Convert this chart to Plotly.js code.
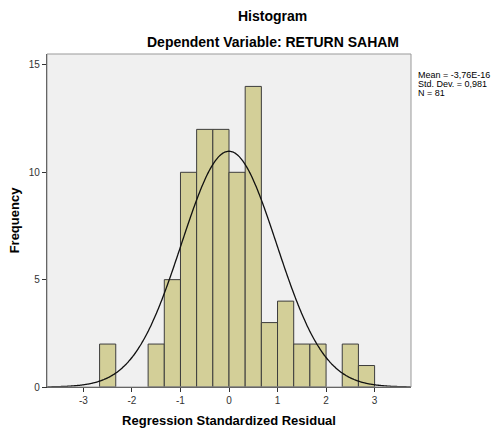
<!DOCTYPE html>
<html>
<head>
<meta charset="utf-8">
<script src="https://cdn.plot.ly/plotly-3.0.1.min.js"></script>
<style>html,body{margin:0;padding:0;background:#fff;}#chart{width:492px;height:429px;}</style>
</head>
<body>
<div id="chart"></div>
<script>
// Data
const binCenters = [-2.5, -2.1667, -1.8333, -1.5, -1.1667, -0.8333, -0.5, -0.1667, 0.1667, 0.5, 0.8333, 1.1667, 1.5, 1.8333, 2.1667, 2.5, 2.8333];
const counts     = [2, 0, 0, 2, 5, 10, 12, 12, 10, 14, 3, 4, 2, 2, 0, 2, 1];
const binWidth = 1/3;
const meanVal = -3.76e-16;
const sdVal = 0.981;
const nVal = 81;
const statLines = ["Mean = -3,76E-16", "Std. Dev. = 0,981", "N = 81"];
const xTicks = [-3, -2, -1, 0, 1, 2, 3];
const yTicks = [0, 5, 10, 15];

// Normal curve fitted with the reported mean/sd, scaled to counts
const curveX = [], curveY = [];
for (let i = 0; i <= 300; i++) {
  const x = -3.75 + 7.5 * i / 300;
  const z = (x - meanVal) / sdVal;
  curveX.push(x);
  curveY.push(nVal * binWidth * Math.exp(-0.5 * z * z) / (sdVal * Math.sqrt(2 * Math.PI)));
}

const bx = [], by = [];
binCenters.forEach((c, i) => { if (counts[i] > 0) { bx.push(c); by.push(counts[i]); } });

const traces = [
  {
    type: 'bar', x: bx, y: by, width: binWidth,
    marker: {color: '#d3cf98', line: {color: '#3c3c3c', width: 1}},
    hoverinfo: 'x+y', showlegend: false
  },
  {
    type: 'scatter', mode: 'lines', x: curveX, y: curveY,
    line: {color: '#111111', width: 1.3, shape: 'spline'},
    hoverinfo: 'skip', showlegend: false
  }
];

const fontFam = 'Liberation Sans, Arial, sans-serif';
const annotations = [
  {text: '<b>Histogram</b>', xref: 'paper', yref: 'paper', x: 0.619, y: 1.114, xanchor: 'center', yanchor: 'middle', showarrow: false, font: {family: fontFam, size: 14, color: '#000'}},
  {text: '<b>Dependent Variable: RETURN SAHAM</b>', xref: 'paper', yref: 'paper', x: 0.621, y: 1.036, xanchor: 'center', yanchor: 'middle', showarrow: false, font: {family: fontFam, size: 14, color: '#000'}}
];
const statYs = [75, 84, 93];
statLines.forEach((t, i) => {
  annotations.push({text: t, xref: 'paper', yref: 'paper', x: (416 - 46.7) / 364, y: (387 - statYs[i]) / 333, xanchor: 'left', yanchor: 'middle', showarrow: false, font: {family: fontFam, size: 9, color: '#000'}});
});

const layout = {
  width: 492, height: 429,
  margin: {l: 46.7, r: 81.3, t: 54, b: 42, pad: 0},
  paper_bgcolor: '#ffffff', plot_bgcolor: '#f0f0f0',
  bargap: 0,
  showlegend: false,
  xaxis: {
    range: [-3.75, 3.75], tickvals: xTicks, ticktext: xTicks.map(String),
    showgrid: false, zeroline: false, showline: true, linecolor: '#333', linewidth: 1.2,
    ticks: 'outside', ticklen: 4, tickcolor: '#333',
    tickfont: {family: fontFam, size: 10, color: '#333'},
    title: {text: '<b>Regression Standardized Residual</b>', font: {family: fontFam, size: 13, color: '#000'}, standoff: 10}
  },
  yaxis: {
    range: [0, 15.51], tickvals: yTicks, ticktext: yTicks.map(String),
    showgrid: false, zeroline: false, showline: true, linecolor: '#333', linewidth: 1.2,
    ticks: 'outside', ticklen: 4, tickcolor: '#333',
    tickfont: {family: fontFam, size: 10, color: '#333'},
    title: {text: '<b>Frequency</b>', font: {family: fontFam, size: 13, color: '#000'}, standoff: 6}
  },
  shapes: [
    {type: 'rect', xref: 'paper', yref: 'paper', x0: 0, x1: 1, y0: 0, y1: 1, line: {color: '#999999', width: 1}, fillcolor: 'rgba(0,0,0,0)', layer: 'above'}
  ],
  annotations: annotations
};

Plotly.newPlot('chart', traces, layout, {displayModeBar: false, staticPlot: true});
</script>
</body>
</html>
